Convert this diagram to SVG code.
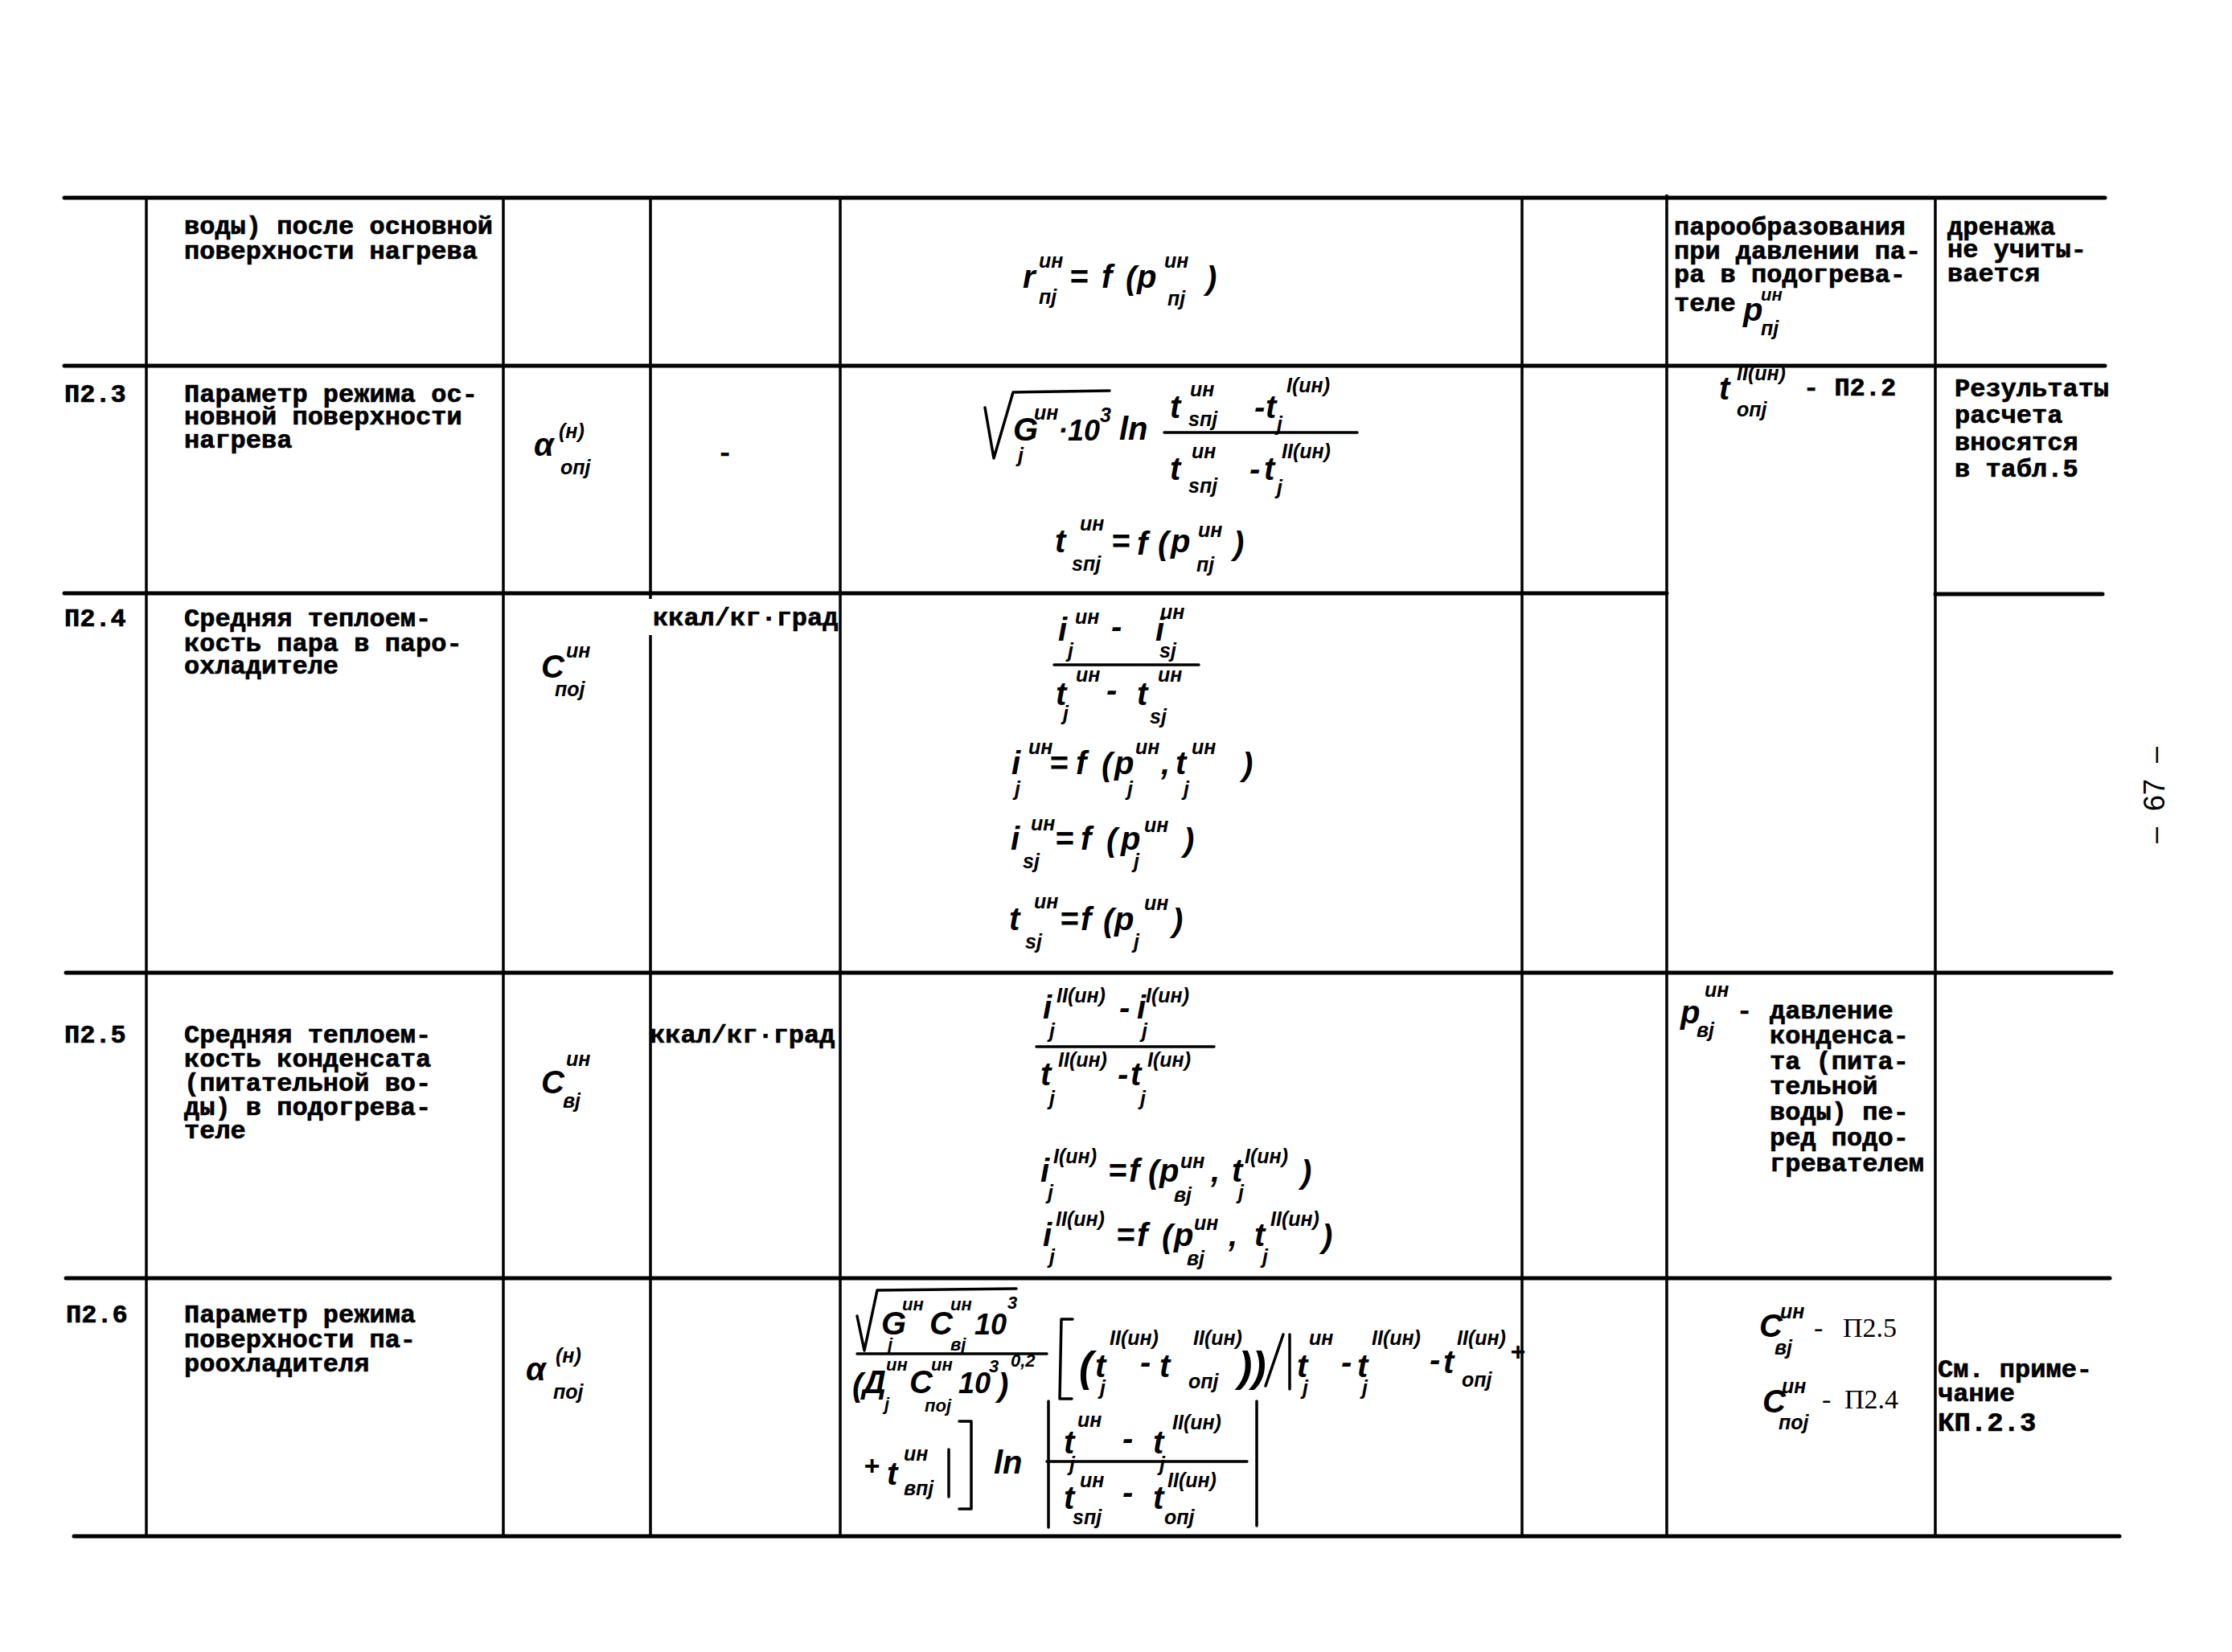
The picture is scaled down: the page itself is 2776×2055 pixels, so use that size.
<svg xmlns="http://www.w3.org/2000/svg" width="2776" height="2055" viewBox="0 0 2776 2055">
<style>
.tw{font-family:"Liberation Mono",monospace;font-weight:bold;font-size:32px;fill:#000;stroke:#000;stroke-width:0.7}
.f{font-family:"Liberation Sans",sans-serif;font-style:italic;font-weight:bold;font-size:40px;fill:#000}
.s{font-family:"Liberation Sans",sans-serif;font-style:italic;font-weight:bold;font-size:25px;fill:#000}
.s2{font-family:"Liberation Sans",sans-serif;font-style:italic;font-weight:bold;font-size:22px;fill:#000}
.ref{font-family:"Liberation Serif",serif;font-size:34px;fill:#000}
.pg{font-family:"Liberation Sans",sans-serif;font-size:36px;fill:#000}
.gh{stroke:#000;stroke-width:5;fill:none;stroke-linecap:round}
.gv{stroke:#000;stroke-width:3.5;fill:none}
.st{stroke:#000;stroke-width:3.5;fill:none;stroke-linecap:round;stroke-linejoin:round}
</style>
<rect width="2776" height="2055" fill="#fff"/>

<g id="grid">
<path class="gh" d="M80,246 H2618"/>
<path class="gh" d="M80,455 H2618"/>
<path class="gh" d="M80,738 H2073 M2407,739 H2615"/>
<path class="gh" d="M82,1210 H2626"/>
<path class="gh" d="M82,1590 H2624"/>
<path class="gh" d="M92,1911 H2636"/>
<path class="gv" d="M182,246 V1911"/>
<path class="gv" d="M626,246 V1911"/>
<path class="gv" d="M809,246 V745 M809,790 V1911"/>
<path class="gv" d="M1045,246 V1911"/>
<path class="gv" d="M1893,246 V1911"/>
<path class="gv" d="M2073,242 V1911"/>
<path class="gv" d="M2407,246 V1911"/>
</g>

<g id="row-cont">
<text class="tw" x="229" y="291">воды) после основной</text>
<text class="tw" x="229" y="322">поверхности нагрева</text>
<text class="f" x="1272" y="358">r</text>
<text class="s" x="1292" y="333">ин</text>
<text class="s" x="1292" y="378">пj</text>
<text class="f" x="1330" y="358">=</text>
<text class="f" x="1370" y="358">f</text>
<text class="f" x="1400" y="360">(</text>
<text class="f" x="1414" y="358">p</text>
<text class="s" x="1448" y="333">ин</text>
<text class="s" x="1452" y="380">пj</text>
<text class="f" x="1500" y="360">)</text>
<text class="tw" x="2082" y="292">парообразования</text>
<text class="tw" x="2082" y="322">при давлении па-</text>
<text class="tw" x="2082" y="351">ра в подогрева-</text>
<text class="tw" x="2082" y="387">теле</text>
<text class="f" x="2168" y="399">p</text>
<text class="s2" x="2190" y="374">ин</text>
<text class="s" x="2190" y="417">пj</text>
<text class="tw" x="2422" y="292">дренажа</text>
<text class="tw" x="2422" y="320">не учиты-</text>
<text class="tw" x="2422" y="350">вается</text>
</g>

<g id="row-p2-3">
<text class="tw" x="80" y="500">П2.3</text>
<text class="tw" x="229" y="500">Параметр режима ос-</text>
<text class="tw" x="229" y="528">новной поверхности</text>
<text class="tw" x="229" y="557">нагрева</text>
<text class="f" x="664" y="567">α</text>
<text class="s" x="695" y="545">(н)</text>
<text class="s" x="697" y="590">опj</text>
<text class="tw" x="892" y="573">-</text>
<path class="st" d="M1225,507 L1236,570 L1260,488 L1380,486"/>
<text class="f" x="1260" y="548">G</text>
<text class="s" x="1286" y="522">ин</text>
<text class="s" x="1266" y="575">j</text>
<text class="f" x="1316" y="548" style="font-size:36px">·10</text>
<text class="s" x="1368" y="525">3</text>
<text class="f" x="1392" y="547">ln</text>
<path class="st" d="M1448,538 H1688"/>
<text class="f" x="1455" y="520">t</text>
<text class="s" x="1480" y="493">ин</text>
<text class="s" x="1478" y="530">sпj</text>
<text class="f" x="1560" y="520">-</text>
<text class="f" x="1574" y="520">t</text>
<text class="s" x="1600" y="488">I(ин)</text>
<text class="s" x="1588" y="536">j</text>
<text class="f" x="1455" y="597">t</text>
<text class="s" x="1482" y="570">ин</text>
<text class="s" x="1478" y="613">sпj</text>
<text class="f" x="1554" y="597">-</text>
<text class="f" x="1572" y="597">t</text>
<text class="s" x="1594" y="570">II(ин)</text>
<text class="s" x="1588" y="615">j</text>
<text class="f" x="1312" y="687">t</text>
<text class="s" x="1343" y="660">ин</text>
<text class="s" x="1333" y="710">sпj</text>
<text class="f" x="1382" y="687">=</text>
<text class="f" x="1414" y="690">f</text>
<text class="f" x="1440" y="690">(</text>
<text class="f" x="1456" y="687">p</text>
<text class="s" x="1490" y="668">ин</text>
<text class="s" x="1488" y="711">пj</text>
<text class="f" x="1534" y="690">)</text>
<text class="f" x="2138" y="497">t</text>
<text class="s" x="2160" y="473">II(ин)</text>
<text class="s" x="2160" y="518">опj</text>
<text class="tw" x="2243" y="492">- П2.2</text>
<text class="tw" x="2431" y="493">Результаты</text>
<text class="tw" x="2431" y="526">расчета</text>
<text class="tw" x="2431" y="560">вносятся</text>
<text class="tw" x="2431" y="593">в табл.5</text>
</g>

<g id="row-p2-4">
<text class="tw" x="80" y="779">П2.4</text>
<text class="tw" x="229" y="779">Средняя теплоем-</text>
<text class="tw" x="229" y="810">кость пара в паро-</text>
<text class="tw" x="229" y="838">охладителе</text>
<text class="f" x="673" y="843">C</text>
<text class="s" x="704" y="818">ин</text>
<text class="s" x="690" y="866">поj</text>
<text class="tw" x="812" y="778">ккал/кг·град</text>
<text class="f" x="1316" y="797">i</text>
<text class="s" x="1337" y="776">ин</text>
<text class="s" x="1328" y="818">j</text>
<text class="f" x="1382" y="793">-</text>
<text class="f" x="1437" y="797">i</text>
<text class="s" x="1443" y="770">ин</text>
<text class="s" x="1442" y="818">sj</text>
<path class="st" d="M1311,827 H1491"/>
<text class="f" x="1313" y="877">t</text>
<text class="s" x="1338" y="848">ин</text>
<text class="s" x="1322" y="896">j</text>
<text class="f" x="1376" y="872">-</text>
<text class="f" x="1414" y="877">t</text>
<text class="s" x="1440" y="848">ин</text>
<text class="s" x="1430" y="900">sj</text>
<text class="f" x="1258" y="963">i</text>
<text class="s" x="1279" y="938">ин</text>
<text class="s" x="1262" y="990">j</text>
<text class="f" x="1305" y="963">=</text>
<text class="f" x="1338" y="963">f</text>
<text class="f" x="1370" y="965">(</text>
<text class="f" x="1386" y="963">p</text>
<text class="s" x="1412" y="938">ин</text>
<text class="s" x="1402" y="990">j</text>
<text class="f" x="1444" y="963">,</text>
<text class="f" x="1462" y="963">t</text>
<text class="s" x="1482" y="938">ин</text>
<text class="s" x="1472" y="990">j</text>
<text class="f" x="1545" y="965">)</text>
<text class="f" x="1257" y="1057">i</text>
<text class="s" x="1282" y="1033">ин</text>
<text class="s" x="1272" y="1080">sj</text>
<text class="f" x="1312" y="1057">=</text>
<text class="f" x="1344" y="1057">f</text>
<text class="f" x="1376" y="1059">(</text>
<text class="f" x="1394" y="1057">p</text>
<text class="s" x="1423" y="1035">ин</text>
<text class="s" x="1410" y="1080">j</text>
<text class="f" x="1472" y="1059">)</text>
<text class="f" x="1255" y="1157">t</text>
<text class="s" x="1286" y="1130">ин</text>
<text class="s" x="1275" y="1180">sj</text>
<text class="f" x="1318" y="1157">=</text>
<text class="f" x="1344" y="1157">f</text>
<text class="f" x="1372" y="1159">(</text>
<text class="f" x="1386" y="1157">p</text>
<text class="s" x="1423" y="1132">ин</text>
<text class="s" x="1410" y="1180">j</text>
<text class="f" x="1458" y="1159">)</text>
</g>

<g id="row-p2-5">
<text class="tw" x="80" y="1297">П2.5</text>
<text class="tw" x="229" y="1297">Средняя теплоем-</text>
<text class="tw" x="229" y="1327">кость конденсата</text>
<text class="tw" x="229" y="1357">(питательной во-</text>
<text class="tw" x="229" y="1387">ды) в подогрева-</text>
<text class="tw" x="229" y="1416">теле</text>
<text class="f" x="673" y="1360">C</text>
<text class="s" x="704" y="1326">ин</text>
<text class="s" x="700" y="1378">вj</text>
<text class="tw" x="808" y="1297">ккал/кг·град</text>
<text class="f" x="1297" y="1267">i</text>
<text class="s" x="1314" y="1247">II(ин)</text>
<text class="s" x="1305" y="1291">j</text>
<text class="f" x="1392" y="1267">-</text>
<text class="f" x="1414" y="1267">i</text>
<text class="s" x="1425" y="1247">I(ин)</text>
<text class="s" x="1420" y="1291">j</text>
<path class="st" d="M1289,1302 H1510"/>
<text class="f" x="1294" y="1350">t</text>
<text class="s" x="1316" y="1327">II(ин)</text>
<text class="s" x="1305" y="1375">j</text>
<text class="f" x="1390" y="1350">-</text>
<text class="f" x="1406" y="1350">t</text>
<text class="s" x="1427" y="1327">I(ин)</text>
<text class="s" x="1418" y="1375">j</text>
<text class="f" x="1294" y="1470">i</text>
<text class="s" x="1310" y="1447">I(ин)</text>
<text class="s" x="1303" y="1492">j</text>
<text class="f" x="1378" y="1470">=</text>
<text class="f" x="1404" y="1470">f</text>
<text class="f" x="1428" y="1472">(</text>
<text class="f" x="1442" y="1470">p</text>
<text class="s" x="1468" y="1453">ин</text>
<text class="s" x="1460" y="1495">вj</text>
<text class="f" x="1506" y="1470">,</text>
<text class="f" x="1532" y="1470">t</text>
<text class="s" x="1548" y="1447">I(ин)</text>
<text class="s" x="1540" y="1492">j</text>
<text class="f" x="1618" y="1472">)</text>
<text class="f" x="1297" y="1550">i</text>
<text class="s" x="1313" y="1525">II(ин)</text>
<text class="s" x="1305" y="1572">j</text>
<text class="f" x="1388" y="1550">=</text>
<text class="f" x="1414" y="1550">f</text>
<text class="f" x="1445" y="1552">(</text>
<text class="f" x="1460" y="1550">p</text>
<text class="s" x="1485" y="1530">ин</text>
<text class="s" x="1476" y="1574">вj</text>
<text class="f" x="1528" y="1550">,</text>
<text class="f" x="1560" y="1550">t</text>
<text class="s" x="1580" y="1525">II(ин)</text>
<text class="s" x="1570" y="1572">j</text>
<text class="f" x="1644" y="1552">)</text>
<text class="f" x="2090" y="1273">p</text>
<text class="s" x="2120" y="1240">ин</text>
<text class="s" x="2110" y="1290">вj</text>
<text class="tw" x="2160" y="1267">-</text>
<text class="tw" x="2201" y="1267">давление</text>
<text class="tw" x="2201" y="1298">конденса-</text>
<text class="tw" x="2201" y="1330">та (пита-</text>
<text class="tw" x="2201" y="1361">тельной</text>
<text class="tw" x="2201" y="1393">воды) пе-</text>
<text class="tw" x="2201" y="1425">ред подо-</text>
<text class="tw" x="2201" y="1457">гревателем</text>
</g>

<g id="row-p2-6">
<text class="tw" x="82" y="1645">П2.6</text>
<text class="tw" x="229" y="1645">Параметр режима</text>
<text class="tw" x="229" y="1676">поверхности па-</text>
<text class="tw" x="229" y="1706">роохладителя</text>
<text class="f" x="654" y="1717">α</text>
<text class="s" x="691" y="1695">(н)</text>
<text class="s" x="688" y="1740">поj</text>
<path class="st" d="M1066,1637 L1075,1680 L1091,1605 L1264,1603"/>
<text class="f" x="1096" y="1660">G</text>
<text class="s2" x="1122" y="1630">ин</text>
<text class="s2" x="1104" y="1680">j</text>
<text class="f" x="1156" y="1660">C</text>
<text class="s2" x="1182" y="1630">ин</text>
<text class="s2" x="1182" y="1680">вj</text>
<text class="f" x="1212" y="1660" style="font-size:36px">10</text>
<text class="s2" x="1253" y="1628">3</text>
<path class="st" d="M1066,1684 H1302"/>
<text class="f" x="1060" y="1737">(</text>
<text class="f" x="1073" y="1733">Д</text>
<text class="s2" x="1102" y="1705">ин</text>
<text class="s2" x="1100" y="1754">j</text>
<text class="f" x="1131" y="1733">C</text>
<text class="s2" x="1158" y="1705">ин</text>
<text class="s2" x="1150" y="1756">поj</text>
<text class="f" x="1192" y="1733" style="font-size:36px">10</text>
<text class="s2" x="1230" y="1707">3</text>
<text class="f" x="1241" y="1737">)</text>
<text class="s2" x="1257" y="1700">0,2</text>
<path class="st" d="M1334,1641 L1320,1641 L1318,1740 L1333,1740"/>
<text class="f" x="1342" y="1718" style="font-size:52px">(</text>
<text class="f" x="1362" y="1713">t</text>
<text class="s" x="1380" y="1673">II(ин)</text>
<text class="s" x="1368" y="1735">j</text>
<text class="f" x="1418" y="1708">-</text>
<text class="f" x="1442" y="1713">t</text>
<text class="s" x="1484" y="1673">II(ин)</text>
<text class="s" x="1478" y="1727">опj</text>
<text class="f" x="1540" y="1718" style="font-size:52px">))</text>
<path class="st" d="M1596,1660 L1574,1724"/>
<path class="st" d="M1604,1660 V1728"/>
<text class="f" x="1613" y="1713">t</text>
<text class="s" x="1628" y="1673">ин</text>
<text class="s" x="1620" y="1735">j</text>
<text class="f" x="1668" y="1708">-</text>
<text class="f" x="1688" y="1713">t</text>
<text class="s" x="1706" y="1673">II(ин)</text>
<text class="s" x="1694" y="1735">j</text>
<text class="f" x="1778" y="1705">-</text>
<text class="f" x="1795" y="1708">t</text>
<text class="s" x="1812" y="1673">II(ин)</text>
<text class="s" x="1818" y="1725">опj</text>
<text class="f" x="1878" y="1692" style="font-size:32px">+</text>
<text class="f" x="1074" y="1835" style="font-size:34px">+</text>
<text class="f" x="1103" y="1847">t</text>
<text class="s" x="1124" y="1817">ин</text>
<text class="s" x="1124" y="1860">впj</text>
<path class="st" d="M1180,1803 V1862"/>
<path class="st" d="M1193,1768 L1208,1768 L1208,1877 L1193,1877"/>
<text class="f" x="1236" y="1833">ln</text>
<path class="st" d="M1304,1743 V1900"/>
<text class="f" x="1323" y="1808">t</text>
<text class="s" x="1340" y="1775">ин</text>
<text class="s" x="1330" y="1830">j</text>
<text class="f" x="1396" y="1803">-</text>
<text class="f" x="1434" y="1808">t</text>
<text class="s" x="1458" y="1778">II(ин)</text>
<text class="s" x="1442" y="1830">j</text>
<path class="st" d="M1302,1818 H1551"/>
<text class="f" x="1323" y="1877">t</text>
<text class="s" x="1343" y="1850">ин</text>
<text class="s" x="1334" y="1896">sпj</text>
<text class="f" x="1396" y="1870">-</text>
<text class="f" x="1434" y="1877">t</text>
<text class="s" x="1452" y="1850">II(ин)</text>
<text class="s" x="1448" y="1896">опj</text>
<path class="st" d="M1563,1743 V1898"/>
<text class="f" x="2188" y="1663">C</text>
<text class="s" x="2214" y="1640">ин</text>
<text class="s" x="2207" y="1685">вj</text>
<text class="ref" x="2256" y="1663">-</text>
<text class="ref" x="2292" y="1663">П2.5</text>
<text class="f" x="2192" y="1757">C</text>
<text class="s" x="2216" y="1733">ин</text>
<text class="s" x="2212" y="1778">поj</text>
<text class="ref" x="2266" y="1752">-</text>
<text class="ref" x="2294" y="1752">П2.4</text>
<text class="tw" x="2410" y="1713">См. приме-</text>
<text class="tw" x="2410" y="1743">чание</text>
<text class="tw" x="2410" y="1780" style="font-size:34px">КП.2.3</text>
</g>

<g id="page-number" transform="translate(2692,989) rotate(-90)">
<text class="pg" x="-50" y="0" text-anchor="middle">–</text>
<text class="pg" x="0" y="0" text-anchor="middle">67</text>
<text class="pg" x="50" y="0" text-anchor="middle">–</text>
</g>
</svg>
